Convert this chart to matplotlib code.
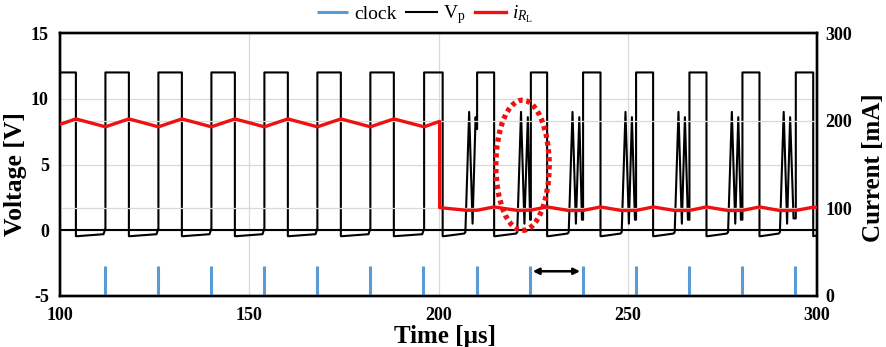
import numpy as np
import matplotlib
matplotlib.use("Agg")
import matplotlib.pyplot as plt
from matplotlib.patches import Ellipse

plt.rcParams['font.family'] = ['Liberation Serif', 'DejaVu Serif']
plt.rcParams['mathtext.fontset'] = 'custom'
plt.rcParams['mathtext.rm'] = 'Liberation Serif'
plt.rcParams['mathtext.it'] = 'Liberation Serif:italic'
plt.rcParams['axes.unicode_minus'] = False

# ---------------- data ----------------
clock_t = [112, 126, 140, 154, 168, 182, 196, 210.2, 224.3, 238.2, 252.2, 266.3, 280.3, 294.3]
clock_top = -2.7

# V_p, before the load step: simple square pulses
pre_rise = [98, 112, 126, 140, 154, 168, 182, 196.2]
pre_fall = [104.2, 118.2, 132.2, 146.2, 160.2, 174.2, 188.2, 201.1]
# V_p, after the load step: double spikes then a square pulse
post_rise = [210.2, 224.4, 238.2, 252.2, 266.3, 280.3, 294.4]
post_fall = [214.7, 228.7, 242.8, 256.7, 270.8, 284.8, 299.0]
peak1_t = [208.1, 221.8, 235.4, 249.4, 263.4, 277.5, 291.2]
peak1_v = [9.0, 9.0, 9.0, 9.0, 9.0, 9.0, 9.0]
trough1_t = [209.0, 222.7, 236.3, 250.3, 264.3, 278.4, 292.1]
trough1_v = [0.5, 0.5, 0.5, 0.5, 0.5, 0.5, 0.5]
peak2_t = [209.8, 223.6, 237.2, 251.1, 265.1, 279.2, 292.9]
peak2_v = [8.6, 8.6, 8.6, 8.6, 8.6, 8.6, 8.6]
trough2_t = [210.1, 224.2, 237.9, 251.9, 265.9, 279.9, 293.8]
trough2_v = [7.7, 0.8, 0.8, 0.8, 0.8, 0.8, 0.9]
v_high = 12.0
v_low_start = -0.45
v_low_end = -0.25

# load current i_RL [mA]
i_t = [100, 104.2, 112, 118.2, 126, 132.2, 140, 146.2, 154, 160.2, 168, 174.2,
       182, 188.2, 196.2, 200.3, 200.3, 207.3, 210.2, 214.7, 221.0, 224.4,
       228.7, 234.4, 238.2, 242.8, 248.4, 252.2, 256.7, 262.4, 266.3, 270.8,
       276.5, 280.3, 284.8, 290.2, 294.4, 299.0, 300]
i_v = [195.8, 202, 193, 202, 193, 202, 193, 202, 193, 202, 193, 202,
       193, 202, 193, 199.2, 100.8, 97.8, 97.8, 101.6, 97.5, 98.0,
       101.6, 97.5, 97.6, 101.6, 97.5, 97.6, 101.6, 97.5, 97.6, 101.6,
       97.5, 97.6, 101.6, 97.5, 97.6, 101.3, 101.0]

# annotations
ellipse_center = (222.2, 4.94)
ellipse_size = (14.1, 9.9)
arrow_x = (224.9, 237.4)
arrow_y = -3.12

# ---------------- build V_p trace from the read events ----------------
vt, vv = [100], [v_high]
for k, (r, f) in enumerate(zip(pre_rise, pre_fall)):
    if k:
        vt += [r]
        vv += [v_low_end + 0.3]
    vt += [r, f, f]
    vv += [v_high, v_high, v_low_start]
    if k + 1 < len(pre_rise):
        nxt = pre_rise[k + 1]
        vt += [f + 0.4, nxt - 0.5, nxt - 0.1]
        vv += [v_low_start, v_low_end - 0.05, v_low_end + 0.3]
prev_fall = pre_fall[-1]
for k in range(len(post_rise)):
    start = peak1_t[k] - 1.0
    vt += [prev_fall + 0.4, start - 0.3, start, peak1_t[k], trough1_t[k], peak2_t[k],
           trough2_t[k], post_rise[k], post_rise[k], post_fall[k], post_fall[k]]
    vv += [v_low_start, v_low_end, v_low_end + 0.1, peak1_v[k], trough1_v[k], peak2_v[k],
           trough2_v[k], trough2_v[k], v_high, v_high, v_low_start]
    prev_fall = post_fall[k]
vt += [300]
vv += [v_low_start + 0.05]

# clock segments
ct, cv = [], []
for c in clock_t:
    ct += [c, c, np.nan]
    cv += [-5, clock_top, np.nan]

# ---------------- figure ----------------
W, H = 886, 347
fig = plt.figure(figsize=(W / 100, H / 100), dpi=100)
ax = fig.add_axes([60 / W, 1 - 296 / H, 757 / W, 263 / H])
ax2 = ax.twinx()

grid_c = '#d9d9d9'
ax.set_xlim(100, 300)
ax.set_ylim(-5, 15)
ax2.set_ylim(0, 300)
ax.set_xticks([100, 150, 200, 250, 300])
ax.set_yticks([-5, 0, 5, 10, 15])
ax2.set_yticks([0, 100, 200, 300])
ax.grid(True, color=grid_c, lw=0.9)
ax2.grid(True, axis='y', color=grid_c, lw=0.9)
ax.set_axisbelow(True)
ax2.set_axisbelow(True)

ax.axhline(0, color='black', lw=1.5, zorder=2)
l_clock, = ax.plot(ct, cv, color='#5b9bd5', lw=2.2, solid_capstyle='butt', zorder=3)
l_vp, = ax.plot(vt, vv, color='black', lw=1.5, zorder=4)
l_i, = ax2.plot(i_t, i_v, color='#ee1111', lw=2.4, zorder=5)

ell = Ellipse(ellipse_center, ellipse_size[0], ellipse_size[1], fill=False,
              edgecolor='#ee1111', lw=3.8, linestyle=(0, (0.8, 0.7)),
              transform=ax.transData, zorder=6)
ax2.add_patch(ell)
ax.annotate('', xy=(arrow_x[1], arrow_y), xytext=(arrow_x[0], arrow_y),
            arrowprops=dict(arrowstyle='<|-|>', color='black', lw=1.8,
                            mutation_scale=9, shrinkA=0, shrinkB=0), zorder=7)

for a in (ax, ax2):
    for s in a.spines.values():
        s.set_linewidth(1.7)
        s.set_color('black')
    a.tick_params(length=0, labelsize=13)
ax.tick_params(axis='y', pad=8)
ax.tick_params(axis='x', pad=8)
ax2.tick_params(axis='y', pad=6)
for lab in ax.get_xticklabels() + ax.get_yticklabels() + ax2.get_yticklabels():
    lab.set_fontweight('bold')

ax.set_xlabel('Time [µs]', fontsize=18, fontweight='bold')
ax.xaxis.set_label_coords((445 - 60) / 757, -(325 - 296) / 263)
ax.set_ylabel('Voltage [V]', fontsize=18.5, fontweight='bold')
ax.yaxis.set_label_coords((27 - 60) / 757, (296 - 174) / 263)
ax2.set_ylabel('Current [mA]', fontsize=18, fontweight='bold')
ax2.yaxis.set_label_coords((862 - 60) / 757, (296 - 167.5) / 263)

fig.legend([l_clock, l_vp, l_i], ['clock', 'V$_\\mathrm{p}$', '$i_{R_\\mathrm{L}}$'],
           loc='center', bbox_to_anchor=(425 / W, 1 - 15 / H), ncol=3, frameon=False,
           fontsize=14, handlelength=1.6, handletextpad=0.3, columnspacing=0.5)

fig.savefig('out.png', dpi=100)
